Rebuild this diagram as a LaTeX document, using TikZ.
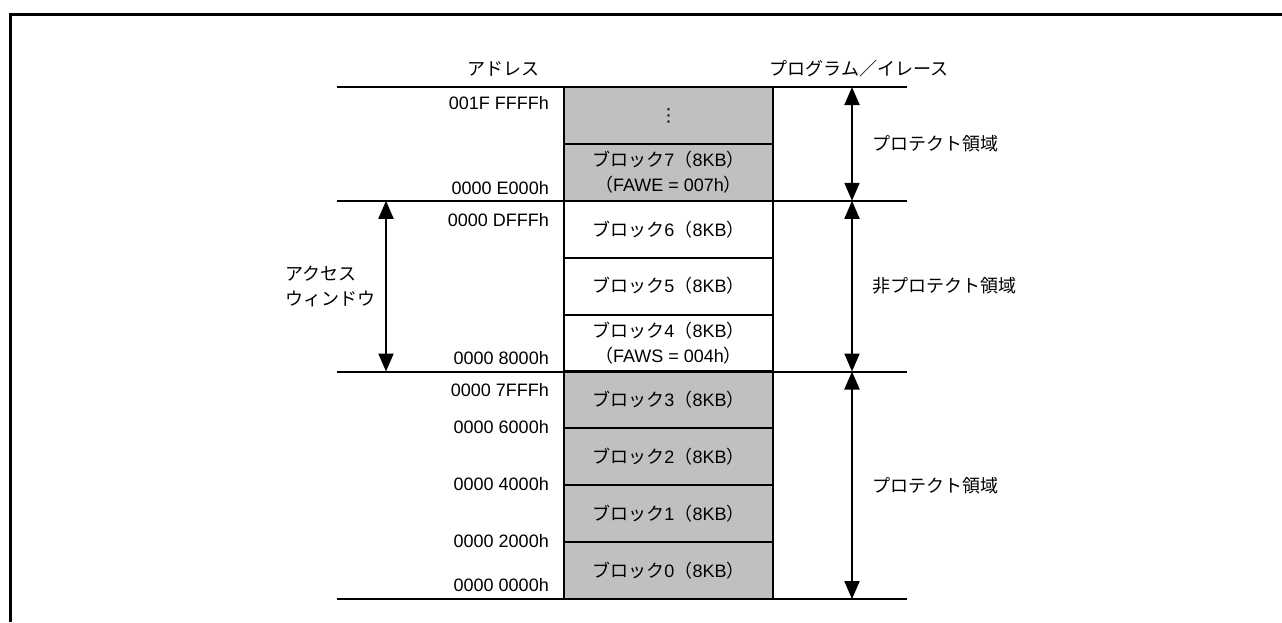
\documentclass[tikz,border=0pt]{standalone}
\usepackage{fontspec}
\setmainfont{Liberation Sans}
\newfontfamily\jp{Noto Sans CJK JP}
\newfontfamily\symf{DejaVu Sans}
\usetikzlibrary{arrows.meta}
\definecolor{silverfill}{RGB}{192,192,192}
\newcommand\blkl[1]{{\jp ブロック}#1{\jp （}8KB{\jp ）}}
\begin{document}
\begin{tikzpicture}[x=1pt,y=-1pt,
  every node/.style={inner sep=0pt, font=\fontsize{18}{25}\selectfont},
  jpn/.style={font=\jp\fontsize{18}{25}\selectfont},
  blk/.style={draw=black, line width=2pt, minimum width=209pt, minimum height=56.9pt, align=center},
  prot/.style={blk, fill=silverfill},
  addr/.style={anchor=east},
  rulel/.style={line width=2pt},
  dim/.style={line width=2pt, {Triangle[width=15pt,length=18pt]}-{Triangle[width=15pt,length=18pt]}},
  framel/.style={line width=3.3pt}]
\useasboundingbox (0,0) rectangle (1282,622);

% frame
\coordinate (fa) at (10.5,622);
\coordinate (fb) at (10.5,14.3);
\coordinate (fc) at (1282,14.3);
\draw[framel] (fa) -- (fb) -- (fc);

% blocks
\node[prot] (bx) at (668.5,115.4) {\symf ⋮};
\node[prot] (b7) at (668.5,172.3) {\blkl{7}\\{\jp （}FAWE = 007h{\jp ）}};
\node[blk]  (b6) at (668.5,229.2) {\blkl{6}};
\node[blk]  (b5) at (668.5,286.1) {\blkl{5}};
\node[blk]  (b4) at (668.5,343.0) {\blkl{4}\\{\jp （}FAWS = 004h{\jp ）}};
\node[prot] (b3) at (668.5,399.9) {\blkl{3}};
\node[prot] (b2) at (668.5,456.8) {\blkl{2}};
\node[prot] (b1) at (668.5,513.7) {\blkl{1}};
\node[prot] (b0) at (668.5,570.6) {\blkl{0}};

% horizontal rules
\coordinate (h0l) at (337,87);    \coordinate (h0r) at (907,87);
\coordinate (h1l) at (337,200.8); \coordinate (h1r) at (907,200.8);
\coordinate (h2l) at (337,371.5); \coordinate (h2r) at (907,371.5);
\coordinate (h3l) at (337,599.1); \coordinate (h3r) at (907,599.1);
\draw[rulel] (h0l) -- (h0r);
\draw[rulel] (h1l) -- (h1r);
\draw[rulel] (h2l) -- (h2r);
\draw[rulel] (h3l) -- (h3r);

% titles
\node[jpn] (t1) at (503,68.5) {アドレス};
\node[jpn] (t2) at (859,68.5) {プログラム／イレース};

% addresses
\node[addr] (a1) at (549,103)   {001F FFFFh};
\node[addr] (a2) at (549,188)   {0000 E000h};
\node[addr] (a3) at (549,220.5) {0000 DFFFh};
\node[addr] (a4) at (549,358)   {0000 8000h};
\node[addr] (a5) at (549,390)   {0000 7FFFh};
\node[addr] (a6) at (549,427)   {0000 6000h};
\node[addr] (a7) at (549,484)   {0000 4000h};
\node[addr] (a8) at (549,541)   {0000 2000h};
\node[addr] (a9) at (549,585)   {0000 0000h};

% right dimension arrows
\coordinate (ra0) at (852,87);
\coordinate (ra1) at (852,200.8);
\coordinate (ra2) at (852,371.5);
\coordinate (ra3) at (852,599.1);
\draw[dim] (ra0) -- (ra1);
\draw[dim] (ra1) -- (ra2);
\draw[dim] (ra2) -- (ra3);
\node[jpn,anchor=west] (p1) at (872,143.9) {プロテクト領域};
\node[jpn,anchor=west] (p2) at (872,286.1) {非プロテクト領域};
\node[jpn,anchor=west] (p3) at (872,485.3) {プロテクト領域};

% left access window arrow
\coordinate (la0) at (386,200.8);
\coordinate (la1) at (386,371.5);
\draw[dim] (la0) -- (la1);
\node[jpn,anchor=west,align=left] (aw) at (285,286) {アクセス\\ウィンドウ};
\end{tikzpicture}
\end{document}
